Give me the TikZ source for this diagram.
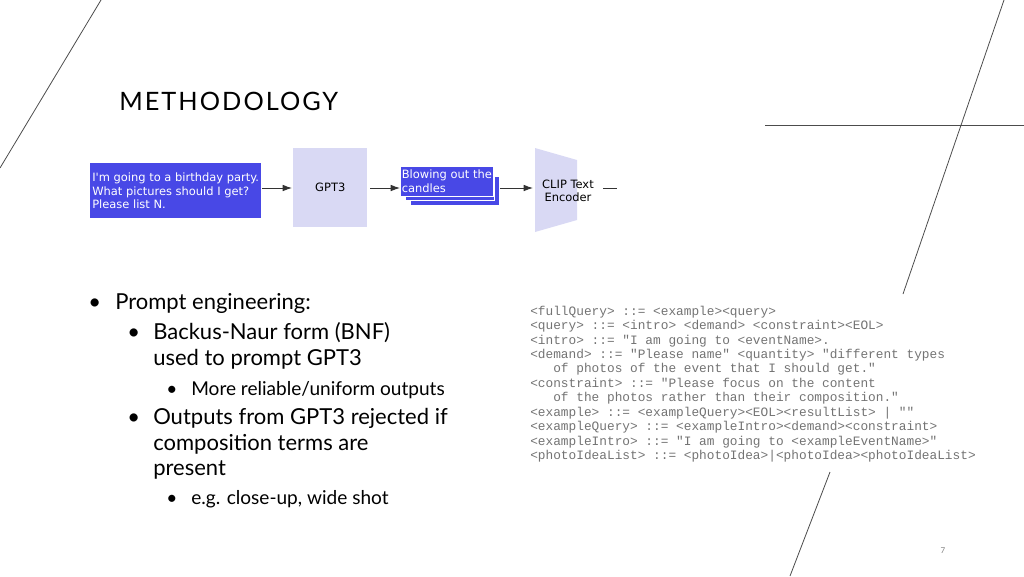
\documentclass[tikz,border=0pt]{standalone}
\usepackage{fontspec}
\setmainfont{Lato}
\newfontfamily\codefont{Liberation Mono}
\newfontfamily\diagfont{DejaVu Sans}
\begin{document}
\begin{tikzpicture}[x=0.75pt,y=-0.75pt,
  deco/.style={draw=black!70,line width=0.6pt},
  bluebox/.style={fill=blue1,draw=none,inner sep=2pt,text=white,font=\diagfont\fontsize{8.6}{10.2}\selectfont,align=left,anchor=north west},
  arr/.style={draw=black!80,line width=0.7pt,-{Latex[length=7pt,width=5pt]}},
  lvl1/.style={anchor=base west,inner sep=0,font=\fontsize{16.5}{19.5}\selectfont},
  lvl3/.style={anchor=base west,inner sep=0,font=\fontsize{14.3}{16}\selectfont},
  codeline/.style={anchor=base west,inner sep=0,text=black!55,font=\codefont\fontsize{9.6}{10}\selectfont}]
\usetikzlibrary{arrows.meta}
\definecolor{blue1}{HTML}{4848E6}
\definecolor{lav}{HTML}{D9D9F4}
\useasboundingbox (0,0) rectangle (1024,576);
% decorative lines
\draw[deco] (0,168) -- (101,0);
\draw[deco] (765,125) -- (1024,125);
\draw[deco] (1004,0) -- (903,294);
\draw[deco] (830,472) -- (790,576);
% title
\node[anchor=base west,inner sep=0,font=\fontsize{19}{22}\selectfont] (title) at (119,110) {\addfontfeature{LetterSpace=8}METHODOLOGY};
% diagram
\node[bluebox,minimum width=170*0.75pt,minimum height=55*0.75pt,inner sep=1.5pt] (q) at (90,163) {I'm going to a birthday party.\\What pictures should I get?\\Please list N.};
\node[fill=lav,minimum width=74*0.75pt,minimum height=79*0.75pt,anchor=north west,font=\diagfont\fontsize{8.6}{10}\selectfont] (g) at (293,148) {GPT3};
\fill[white] (410,176) rectangle (500,206);
\fill[blue1] (411,177) rectangle (499,205);
\fill[white] (405,171) rectangle (495,201);
\fill[blue1] (406,172) rectangle (494,200);
\node[bluebox,minimum width=90*0.75pt,minimum height=30*0.75pt,inner sep=1pt,draw=white,line width=0.75pt] (c) at (400,166) {Blowing out the\\candles};
\fill[lav] (535,148) -- (577,160) -- (577,220) -- (535,232) -- cycle;
\node[font=\diagfont\fontsize{8.6}{10}\selectfont,align=center] (clip) at (568,191) {CLIP Text\\Encoder};
\coordinate (a1) at (262,188);
\coordinate (a2) at (292,188);
\coordinate (a3) at (370,188);
\coordinate (a4) at (400,188);
\coordinate (a5) at (500,188);
\coordinate (e1) at (533,188);
\coordinate (out1) at (603,188);
\coordinate (out2) at (617,188);
\draw[arr] (a1) -- (a2);
\draw[arr] (a3) -- (a4);
\draw[arr] (a5) -- (e1);
\draw[draw=black!80,line width=0.7pt] (out1) -- (out2);
% bullets
\node[lvl1] (b1d) at (88,309) {•};
\node[lvl1] (b1) at (115,309) {Prompt engineering:};
\node[lvl1] (b2d) at (127,339) {•};
\node[lvl1] (b2) at (153,339) {Backus-Naur form (BNF)};
\node[lvl1] (b2b) at (153,365) {used to prompt GPT3};
\node[lvl3] (b3d) at (166,395) {•};
\node[lvl3] (b3) at (191,395) {More reliable/uniform outputs};
\node[lvl1] (b4d) at (127,424) {•};
\node[lvl1] (b4) at (153,424) {Outputs from GPT3 rejected if};
\node[lvl1] (b4b) at (153,450) {composition terms are};
\node[lvl1] (b4c) at (153,475) {present};
\node[lvl3] (b5d) at (166,504) {•};
\node[lvl3] (b5) at (191,504) {e.g. close-up, wide shot};
% code
\node[codeline] (l1) at (530,315) {<fullQuery> ::= <example><query>};
\node[codeline] (l2) at (530,329) {<query> ::= <intro> <demand> <constraint><EOL>};
\node[codeline] (l3) at (530,344) {<intro> ::= "I am going to <eventName>.};
\node[codeline] (l4) at (530,358) {<demand> ::= "Please name" <quantity> "different types};
\node[codeline] (l5) at (530,372) {\ \ \ of photos of the event that I should get."};
\node[codeline] (l6) at (530,387) {<constraint> ::= "Please focus on the content};
\node[codeline] (l7) at (530,401) {\ \ \ of the photos rather than their composition."};
\node[codeline] (l8) at (530,416) {<example> ::= <exampleQuery><EOL><resultList> | ""};
\node[codeline] (l9) at (530,430) {<exampleQuery> ::= <exampleIntro><demand><constraint>};
\node[codeline] (l10) at (530,445) {<exampleIntro> ::= "I am going to <exampleEventName>"};
\node[codeline] (l11) at (530,459) {<photoIdeaList> ::= <photoIdea>|<photoIdea><photoIdeaList>};
\node[anchor=base,inner sep=0,text=black!50,font=\fontsize{6}{7}\selectfont] (pg) at (943,553) {7};
\end{tikzpicture}
\end{document}
